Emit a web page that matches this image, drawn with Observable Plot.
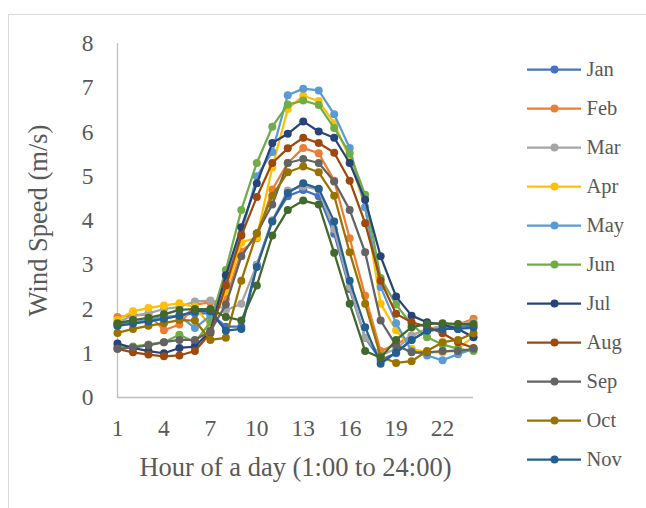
<!DOCTYPE html>
<html><head><meta charset="utf-8">
<script src="https://cdn.jsdelivr.net/npm/d3@7"></script>
<script src="https://cdn.jsdelivr.net/npm/@observablehq/plot@0.6"></script>
<style>
html,body{margin:0;padding:0;background:#fff;}
#wrap{position:relative;width:646px;height:508px;overflow:hidden;}
#border{position:absolute;left:8px;top:14px;width:700px;height:600px;border:1px solid #d9d9d9;box-sizing:border-box;}
#chart,#legend{position:absolute;left:0;top:0;}
</style></head><body>
<div id="wrap"><div id="border"></div><div id="chart"></div><div id="legend"></div></div>
<script>
const hours = [1,2,3,4,5,6,7,8,9,10,11,12,13,14,15,16,17,18,19,20,21,22,23,24];
const months = ["Jan","Feb","Mar","Apr","May","Jun","Jul","Aug","Sep","Oct","Nov","Dec"];
const colors = ["#4472C4","#ED7D31","#A5A5A5","#FFC000","#5B9BD5","#70AD47","#264478","#9E480E","#636363","#997300","#255E91","#43682B"];
const xTicks = [1,4,7,10,13,16,19,22];
const yTicks = [0,1,2,3,4,5,6,7,8];
const xTitle = "Hour of a day (1:00 to 24:00)";
const yTitle = "Wind Speed (m/s)";

const Jan = [1.65,1.7,1.72,1.78,1.85,1.9,1.9,1.6,1.6,3.0,4.0,4.55,4.69,4.55,3.7,2.45,1.35,0.85,1.0,1.3,1.5,1.55,1.6,1.62];
const Feb = [1.82,1.85,1.88,1.52,1.65,2.1,2.15,2.22,3.3,3.6,4.7,5.3,5.64,5.52,4.9,3.6,2.3,1.05,1.2,1.4,1.55,1.6,1.65,1.78];
const Mar = [1.7,1.85,1.9,2.0,2.05,2.17,2.19,1.97,2.12,3.0,4.0,4.68,4.77,4.7,3.8,2.5,1.35,0.95,1.1,1.4,1.55,1.6,1.65,1.7];
const Apr = [1.75,1.95,2.02,2.08,2.13,2.05,1.62,2.4,3.5,3.62,5.2,6.52,6.82,6.7,6.2,5.4,4.3,2.12,1.52,1.1,1.02,1.02,1.1,1.38];
const May = [1.62,1.7,1.75,1.82,1.85,1.57,1.85,2.6,3.7,5.0,5.55,6.83,6.98,6.94,6.4,5.64,4.3,2.5,1.68,1.05,0.95,0.84,0.98,1.1];
const Jun = [1.15,1.15,1.2,1.25,1.42,1.25,1.7,2.88,4.24,5.3,6.12,6.62,6.71,6.61,6.09,5.52,4.58,2.7,2.1,1.65,1.36,1.2,1.1,1.05];
const Jul = [1.22,1.12,1.05,1.0,1.12,1.15,1.5,2.76,3.85,4.84,5.75,5.96,6.24,6.01,5.87,5.3,4.47,3.19,2.28,1.85,1.7,1.65,1.55,1.36];
const Aug = [1.1,1.02,0.97,0.93,0.95,1.05,1.45,2.53,3.66,4.53,5.3,5.63,5.87,5.75,5.53,4.9,3.94,2.64,1.89,1.7,1.6,1.45,1.25,1.12];
const Sep = [1.1,1.13,1.18,1.25,1.3,1.3,1.5,2.1,3.19,3.71,4.36,5.3,5.39,5.3,4.88,4.24,3.28,1.74,1.18,1.02,1.02,1.05,1.05,1.1];
const Oct = [1.46,1.55,1.62,1.68,1.75,1.74,1.3,1.35,2.64,3.71,4.56,5.09,5.22,5.09,4.56,3.28,2.12,0.93,0.78,0.82,1.05,1.25,1.3,1.45];
const Nov = [1.62,1.67,1.72,1.78,1.85,1.95,1.95,1.51,1.55,2.95,3.98,4.62,4.84,4.72,3.98,2.64,1.59,0.76,1.02,1.3,1.51,1.55,1.55,1.58];
const Dec = [1.68,1.75,1.8,1.88,1.98,2.0,2.0,1.82,1.74,2.53,3.66,4.24,4.45,4.36,3.27,2.12,1.05,0.9,1.3,1.59,1.66,1.68,1.66,1.66];
const values = [Jan,Feb,Mar,Apr,May,Jun,Jul,Aug,Sep,Oct,Nov,Dec];
const legendMonths = months.slice(0, 11);

const data = months.flatMap((m, i) => hours.map((h, j) => ({month: m, hour: h, speed: values[i][j]})));
const font = "'Liberation Serif','Times New Roman',serif";
const textColor = "#595959";
const axisColor = "#bfbfbf";

const seriesMarks = months.flatMap(m => {
  const d = data.filter(r => r.month === m);
  return [
    Plot.line(d, {x: "hour", y: "speed", stroke: "month", strokeWidth: 2.25}),
    Plot.dot(d, {x: "hour", y: "speed", fill: "month", r: 4})
  ];
});

const chart = Plot.plot({
  width: 646, height: 508,
  marginLeft: 117, marginRight: 173, marginTop: 43, marginBottom: 111,
  style: {fontFamily: font, color: textColor, background: "transparent", overflow: "visible"},
  x: {domain: [1, 24]},
  y: {domain: [0, 8]},
  color: {domain: months, range: colors},
  marks: [
    Plot.ruleX([1], {y1: 0, y2: 8, stroke: axisColor, strokeWidth: 1.3}),
    Plot.ruleY([0], {x1: 1, x2: 24, stroke: axisColor, strokeWidth: 1.3}),
    Plot.axisX(xTicks, {tickSize: 0, tickPadding: 22, fontSize: 23.5, label: null, fill: textColor}),
    Plot.axisY(yTicks, {tickSize: 0, tickPadding: 24, fontSize: 23.5, label: null, fill: textColor}),
    ...seriesMarks,
    Plot.text([xTitle], {text: d => d, frameAnchor: "bottom", dy: 70, lineAnchor: "middle", textAnchor: "middle", fontSize: 26.5, fill: textColor}),
    Plot.text([yTitle], {text: d => d, frameAnchor: "left", dx: -79, rotate: -90, lineAnchor: "middle", textAnchor: "middle", fontSize: 26.5, fill: textColor})
  ]
});
document.getElementById("chart").appendChild(chart);

const legend = Plot.plot({
  width: 646, height: 508, margin: 0,
  style: {fontFamily: font, color: textColor, background: "transparent", overflow: "visible"},
  x: {domain: [0, 1], range: [527, 581], axis: null},
  y: {type: "point", domain: legendMonths, range: [66.7, 461.3], padding: 0, axis: null},
  color: {domain: months, range: colors},
  marks: [
    Plot.ruleY(legendMonths, {y: d => d, x1: 0, x2: 1, stroke: d => d, strokeWidth: 2.25}),
    Plot.dot(legendMonths, {x: 0.5, y: d => d, fill: d => d, r: 4}),
    Plot.text(legendMonths, {x: 1, y: d => d, text: d => d, dx: 5, textAnchor: "start", fontSize: 20.5, fill: textColor})
  ]
});
document.getElementById("legend").appendChild(legend);
</script>
</body></html>
